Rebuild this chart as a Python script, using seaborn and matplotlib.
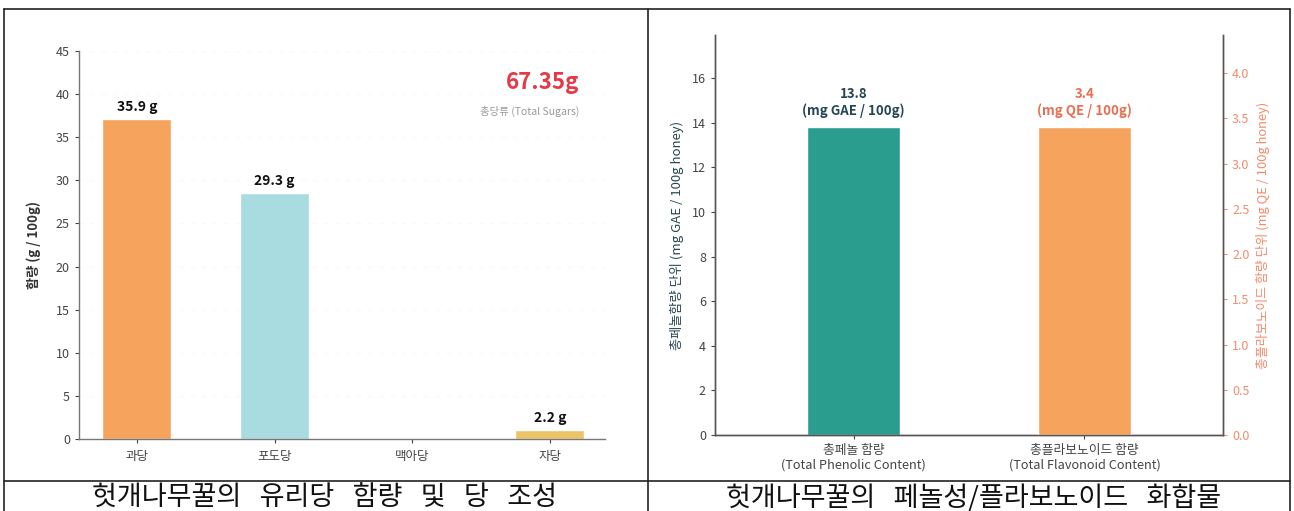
import matplotlib
matplotlib.use("Agg")
import matplotlib.pyplot as plt
import seaborn as sns
from matplotlib.lines import Line2D

sns.set_theme(style="white")
plt.rcParams['font.family'] = ['Noto Sans CJK KR', 'DejaVu Sans']

# ---- data: sugar composition ----
sugars = ["과당", "포도당", "맥아당", "자당"]
sugar_values = [37.1, 28.5, 0.0, 1.0]
sugar_labels = ["35.9 g", "29.3 g", "", "2.2 g"]
sugar_colors = ["#F6A35E", "#A8DCE0", "#FFFFFF", "#EBC468"]
total_sugar = "67.35g"
total_sugar_label = "총당류 (Total Sugars)"
sugar_yticks = [0, 5, 10, 15, 20, 25, 30, 35, 40, 45]

# ---- data: phenolic / flavonoid ----
compounds = ["총페놀 함량\n(Total Phenolic Content)", "총플라보노이드 함량\n(Total Flavonoid Content)"]
phenolic_value = [13.8]
flavonoid_value = [3.4]
phenolic_label = "13.8\n(mg GAE / 100g)"
flavonoid_label = "3.4\n(mg QE / 100g)"
phen_yticks = [0, 2, 4, 6, 8, 10, 12, 14, 16]
flav_yticks = [0.0, 0.5, 1.0, 1.5, 2.0, 2.5, 3.0, 3.5, 4.0]

captions = ["헛개나무꿀의   유리당   함량   및   당   조성", "헛개나무꿀의   페놀성/플라보노이드   화합물"]

W, H = 1294, 511
fig = plt.figure(figsize=(W / 100, H / 100), dpi=100)
fig.patch.set_facecolor("white")

def fx(px):
    return px / W

def fy(py):
    return 1 - py / H

# ---------- left chart ----------
ax1 = fig.add_axes([fx(79), fy(439), fx(605) - fx(79), fy(51) - fy(439)])
sns.barplot(x=sugars, y=sugar_values, hue=sugars, palette=sugar_colors, legend=False,
            width=0.5, ax=ax1, saturation=1)
ax1.set_ylim(0, 45)
ax1.set_xlim(-0.42, 3.4)
ax1.set_yticks(sugar_yticks)
ax1.yaxis.grid(True, color="#f9f9f9", linestyle=(0, (4, 6)), linewidth=0.8)
ax1.set_axisbelow(True)
for sp in ["top", "right"]:
    ax1.spines[sp].set_visible(False)
for sp in ["left", "bottom"]:
    ax1.spines[sp].set_color("#777777")
    ax1.spines[sp].set_linewidth(1.0)
ax1.tick_params(axis="both", labelsize=9, colors="#444444", length=3, width=0.8,
                left=True, bottom=True, direction="out")
ax1.tick_params(axis="x", pad=5)
ax1.set_xlabel("")
ax1.set_ylabel("함량 (g / 100g)", fontsize=9.5, color="#333333", fontweight="bold", labelpad=11)
for i, (v, lab) in enumerate(zip(sugar_values, sugar_labels)):
    if lab:
        ax1.text(i, v + 0.6, lab, ha="center", va="bottom", fontsize=10,
                 fontweight="bold", color="#111111")
ax1.text(0.9506, 0.920, total_sugar, transform=ax1.transAxes, ha="right", va="center",
         fontsize=16, fontweight="bold", color="#E63946")
ax1.text(0.9506, 0.845, total_sugar_label, transform=ax1.transAxes, ha="right", va="center",
         fontsize=7.5, color="#999999")

# ---------- right chart ----------
ax2 = fig.add_axes([fx(715), fy(435), fx(1223) - fx(715), fy(35) - fy(435)])
sns.barplot(x=compounds[:1], y=phenolic_value, order=compounds, color="#2A9D8F",
            width=0.4, ax=ax2, saturation=1)
ax2.set_ylim(0, phenolic_value[0] * 1.3)
ax2.set_xlim(-0.6, 1.6)
ax2.set_yticks(phen_yticks)
ax3 = ax2.twinx()
sns.barplot(x=compounds[1:], y=flavonoid_value, order=compounds, color="#F6A35E",
            width=0.4, ax=ax3, saturation=1)
ax3.set_ylim(0, flavonoid_value[0] * 1.3)
ax3.set_xlim(-0.6, 1.6)
ax3.set_yticks(flav_yticks)
ax3.set_yticklabels([f"{t:.1f}" for t in flav_yticks])

for a in (ax2, ax3):
    a.spines["top"].set_visible(False)
    for sp in ["left", "right", "bottom"]:
        a.spines[sp].set_color("#555555")
        a.spines[sp].set_linewidth(1.0)
ax2.tick_params(axis="y", labelsize=9, colors="#444444", length=3, width=0.8, left=True)
ax2.tick_params(axis="x", labelsize=9.2, colors="#444444", length=3, width=0.8, bottom=True)
ax3.tick_params(axis="y", labelsize=9, colors="#F28B6B", length=3, width=0.8, right=True)
ax2.set_xlabel("")
ax3.set_xlabel("")
ax2.set_ylabel("총페놀함량 단위 (mg GAE / 100g honey)", fontsize=9.5, color="#264653", labelpad=6)
ax3.set_ylabel("총플라보노이드 함량 단위 (mg QE / 100g honey)", fontsize=9.3, color="#F28B6B", labelpad=5)
ax2.text(0, phenolic_value[0] + 0.4, phenolic_label, ha="center", va="bottom", fontsize=9.5,
         fontweight="bold", color="#264653", linespacing=1.25)
ax3.text(1, flavonoid_value[0] + 0.1, flavonoid_label, ha="center", va="bottom", fontsize=9.5,
         fontweight="bold", color="#E76F51", linespacing=1.25)

# ---------- table frame & captions ----------
lw = 1.2
lines = [
    ((4, 1290), (9, 9)),
    ((4, 4), (9, 511)),
    ((1290, 1290), (9, 511)),
    ((648, 648), (9, 511)),
    ((4, 1290), (481, 481)),
]
for xs, ys in lines:
    fig.add_artist(Line2D([fx(x) for x in xs], [fy(y) for y in ys], color="#222222",
                          linewidth=lw, transform=fig.transFigure))
fig.text(fx(325), fy(498), captions[0], ha="center", va="center", fontsize=19.5,
         color="#111111", fontweight="light")
fig.text(fx(974), fy(498), captions[1], ha="center", va="center", fontsize=19.5,
         color="#111111", fontweight="light")

fig.savefig("out.png", dpi=100, facecolor="white")
